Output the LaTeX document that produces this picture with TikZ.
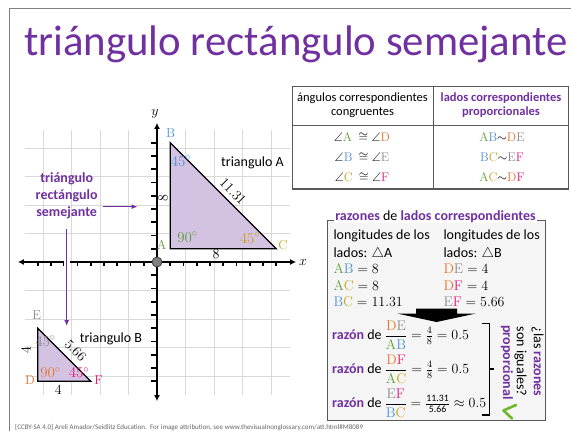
\RequirePackage{fix-cm}
\documentclass[tikz,border=0pt]{standalone}
\usepackage{amsmath,amssymb}
\usepackage[no-math]{fontspec}
\setmainfont{Carlito}
\usetikzlibrary{arrows.meta}
\definecolor{purp}{HTML}{7030A0}
\definecolor{colA}{HTML}{5F9E3A}
\definecolor{colB}{HTML}{4F92D2}
\definecolor{colC}{HTML}{C9A21A}
\definecolor{colD}{HTML}{E2752E}
\definecolor{colE}{HTML}{8C8C8C}
\definecolor{colF}{HTML}{E31C79}
\definecolor{lav}{HTML}{D4C2E3}
\definecolor{gridc}{HTML}{D9D9D9}
\definecolor{framec}{HTML}{808080}
\definecolor{boxfill}{HTML}{F5F5F5}
\definecolor{tabc}{HTML}{595959}
\definecolor{checkc}{HTML}{6EB928}
\newcommand{\myA}{{\color{colA}\mathrm{A}}}
\newcommand{\myB}{{\color{colB}\mathrm{B}}}
\newcommand{\myC}{{\color{colC}\mathrm{C}}}
\newcommand{\myD}{{\color{colD}\mathrm{D}}}
\newcommand{\myE}{{\color{colE}\mathrm{E}}}
\newcommand{\myF}{{\color{colF}\mathrm{F}}}
\tikzset{
  titlef/.style={font=\fontsize{42.8}{50}\selectfont, text=purp, inner sep=0pt},
  lbl/.style={font=\fontsize{13}{15}\selectfont, inner sep=0pt},
  anglbl/.style={font=\fontsize{15}{17}\selectfont, inner sep=0pt},
  sidelbl/.style={font=\fontsize{14}{16}\selectfont, inner sep=0pt},
  txt/.style={font=\fontsize{14}{17}\selectfont, inner sep=0pt},
  tabt/.style={font=\fontsize{12.5}{14}\selectfont, inner sep=0pt, align=center},
  boxt/.style={font=\fontsize{14}{17}\selectfont, inner sep=0pt, anchor=base west},
  purpbold/.style={font=\fontsize{14}{17}\selectfont\bfseries, text=purp, inner sep=0pt, align=center},
  axisline/.style={line width=1.6pt, black},
  purparrow/.style={draw=purp, line width=1.5pt, -{Latex[length=6pt,width=5pt]}},
  tri/.style={fill=lav, draw=black, line width=1.3pt, line join=miter},
}
\begin{document}
\begin{tikzpicture}[x=1pt,y=-1pt]
\useasboundingbox (0,0) rectangle (571,431);
\fill[white] (0,0) rectangle (571,431);
% frame
\draw[framec, line width=1.6pt] (9.5,431) -- (9.5,8.5) -- (571,8.5);
\node[titlef, anchor=base west] (title) at (24,55) {triángulo rectángulo semejante};

% coordinate plane
\begin{scope}[shift={(157pt,-262pt)}, x=13.25pt, y=13.25pt]
  \draw[gridc, line width=0.6pt] (-10,-10) grid (10,10);
  \coordinate (A) at (1,1);
  \coordinate (B) at (1,9);
  \coordinate (C) at (9,1);
  \coordinate (D) at (-9,-9);
  \coordinate (E) at (-9,-5);
  \coordinate (F) at (-5,-9);
  \filldraw[tri] (A) -- (B) -- (C) -- cycle;
  \filldraw[tri] (D) -- (E) -- (F) -- cycle;
  \coordinate (xl) at (-10.5,0);
  \coordinate (xr) at (10.5,0);
  \coordinate (yb) at (0,-10.5);
  \coordinate (yt) at (0,10.5);
  \draw[axisline, {Latex[length=6pt,width=6pt]}-{Latex[length=6pt,width=6pt]}] (xl) -- (xr);
  \draw[axisline, {Latex[length=6pt,width=6pt]}-{Latex[length=6pt,width=6pt]}] (yb) -- (yt);
  \foreach \i in {-9,...,-1,1,2,...,9} {
    \draw[axisline] (\i,0) -- (\i,-0.33);
    \draw[axisline] (0,\i) -- (-0.45,\i);
  }
  \node[circle, fill=framec, draw=black!75, line width=0.8pt, minimum size=10pt, inner sep=0pt] (O) at (0,0) {};
\end{scope}
\node[lbl, font=\fontsize{14}{16}\selectfont] (xlab) at (303,262) {$x$};
\node[lbl, font=\fontsize{14}{16}\selectfont] (ylab) at (155,114) {$y$};

% triangle A labels
\node[lbl] (lB) at (170.7,132.7) {$\myB$};
\node[lbl] (lA) at (161.7,245) {$\myA$};
\node[lbl] (lC) at (283,245) {$\myC$};
\node[anglbl, text=colB] (aB) at (181,161) {$45^\circ$};
\node[anglbl, text=colA] (aA) at (187.5,237) {$90^\circ$};
\node[anglbl, text=colC] (aC) at (250,238) {$45^\circ$};
\node[sidelbl, rotate=90] (sAB) at (163,198) {$8$};
\node[sidelbl] (sAC) at (216,253.5) {$8$};
\node[sidelbl, rotate=-45] (sBC) at (233,191.5) {$11.31$};
\node[txt] (tA) at (252.5,162.7) {triangulo A};

% triangle B labels
\node[lbl] (lE) at (36.7,315) {$\myE$};
\node[lbl] (lD) at (30,380) {$\myD$};
\node[lbl] (lF) at (98.5,380) {$\myF$};
\node[anglbl, text=colE] (aE) at (45.5,341) {$45^\circ$};
\node[anglbl, text=colD] (aD) at (50.5,372.7) {$90^\circ$};
\node[anglbl, text=colF] (aF) at (79,372.7) {$45^\circ$};
\node[sidelbl, rotate=90] (sDE) at (26,350) {$4$};
\node[sidelbl] (sDF) at (58.3,390) {$4$};
\node[sidelbl, rotate=-45] (sEF) at (75.5,350.5) {$5.66$};
\node[txt] (tB) at (111,339) {triangulo B};

% purple label and arrows
\node[purpbold] (sem) at (66.7,196) {triángulo\\rectángulo\\semejante};
\coordinate (h1) at (103,206.7);
\coordinate (h2) at (137.5,206.7);
\draw[purparrow] (h1) -- (h2);
\coordinate (v1) at (66.7,229);
\coordinate (v2) at (66.7,326);
\draw[white, line width=6pt] (66.7,256) -- (66.7,268);
\draw[purparrow] (v1) -- (v2);

% table
\draw[tabc, line width=0.8pt] (433.3,86.7) -- (433.3,189);
\draw[tabc, line width=1.4pt] (292.7,125.7) -- (568.7,125.7);
\draw[tabc, line width=1.4pt] (292.7,86.7) rectangle (568.7,189);
\node[tabt] (h1t) at (362.5,105.5) {ángulos correspondientes\\congruentes};
\node[tabt, font=\fontsize{12.5}{14}\selectfont\bfseries, text=purp] (h2t) at (501,105.5) {lados correspondientes\\proporcionales};
\node[tabt] (r1a) at (362,137) {$\angle\myA\ \cong\angle\myD$};
\node[tabt] (r2a) at (362,157) {$\angle\myB\ \cong\angle\myE$};
\node[tabt] (r3a) at (362,177) {$\angle\myC\ \cong\angle\myF$};
\node[tabt] (r1b) at (502,137) {$\myA\myB{\sim}\myD\myE$};
\node[tabt] (r2b) at (502,157) {$\myB\myC{\sim}\myE\myF$};
\node[tabt] (r3b) at (502,177) {$\myA\myC{\sim}\myD\myF$};

% ratio box
\draw[tabc, line width=0.9pt, fill=boxfill] (327.3,220.7) rectangle (545.5,420);
\node[font=\fontsize{14}{17}\selectfont, anchor=base, fill=white, inner xsep=1pt, inner ysep=0.5pt] (bt) at (435.5,220.5)
  {\textcolor{purp}{\textbf{razones}} de \textcolor{purp}{\textbf{lados correspondientes}}};
\node[boxt] (c1a) at (333.3,239) {longitudes de los};
\node[boxt] (c1b) at (333.3,257.3) {lados: $\triangle$A};
\node[boxt] (c1c) at (333.3,273.5) {$\myA\myB = 8$};
\node[boxt] (c1d) at (333.3,290) {$\myA\myC = 8$};
\node[boxt] (c1e) at (333.3,306) {$\myB\myC = 11.31$};
\node[boxt] (c2a) at (443.3,239) {longitudes de los};
\node[boxt] (c2b) at (443.3,257.3) {lados: $\triangle$B};
\node[boxt] (c2c) at (443.3,273.5) {$\myD\myE = 4$};
\node[boxt] (c2d) at (443.3,290) {$\myD\myF = 4$};
\node[boxt] (c2e) at (443.3,306) {$\myE\myF = 5.66$};

% big black arrow
\fill[black] (416,308.5) -- (457,308.5) -- (457,313.5) -- (476,313.5) -- (436.5,322) -- (397,313.5) -- (416,313.5) -- cycle;

% ratio lines
\node[boxt] (q1) at (332,339.5) {\textcolor{purp}{\textbf{razón}} de $\dfrac{\myD\myE}{\myA\myB} = \tfrac{4}{8} = 0.5$};
\node[boxt] (q2) at (332,373.5) {\textcolor{purp}{\textbf{razón}} de $\dfrac{\myD\myF}{\myA\myC} = \tfrac{4}{8} = 0.5$};
\node[boxt] (q3) at (332,407.5) {\textcolor{purp}{\textbf{razón}} de $\dfrac{\myE\myF}{\myB\myC} = \tfrac{\text{11.31}}{\text{5.66}} \approx 0.5$};

% bracket
\draw[black, line width=1.3pt] (482,323.5) -- (489.5,323.5) -- (489.5,415) -- (482,415);
\draw[black, line width=1.3pt] (489.5,369) -- (494,369);

% rotated texts
\node[purpbold, rotate=-90] (prop) at (507,362.5) {proporcional};
\node[txt, rotate=-90, align=center] (q) at (529,361.5) {¿las \textcolor{purp}{\textbf{razones}}\\son iguales?};

% check mark
\draw[checkc, line width=2.6pt, line join=round, line cap=round] (516,405) -- (503.5,410.5) -- (512,418.5);

% footer
\node[font=\fontsize{7}{8}\selectfont, text=black!60, anchor=base west, inner sep=0pt] (foot) at (15,429.5)
  {[CCBY-SA 4.0] Areli Amador/Seidlitz Education.\ \ For image attribution, see www.thevisualnonglossary.com/att.html\#M8089};
\end{tikzpicture}
\end{document}
